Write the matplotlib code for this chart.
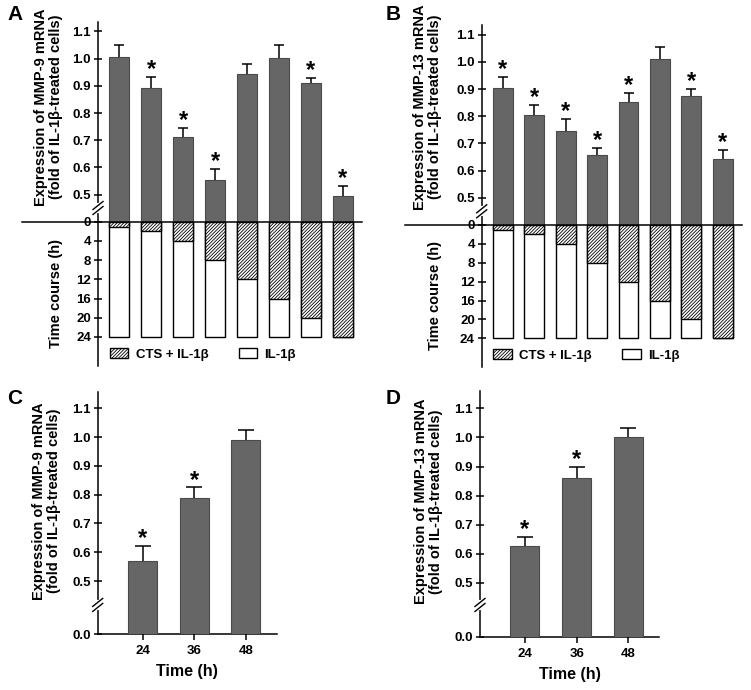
import numpy as np
import matplotlib
matplotlib.use('Agg')
import matplotlib.pyplot as plt
from matplotlib.patches import Patch

plt.rcParams['font.family'] = ['Liberation Sans', 'DejaVu Sans']
plt.rcParams['font.weight'] = 'bold'
plt.rcParams['axes.labelweight'] = 'bold'
plt.rcParams['hatch.linewidth'] = 0.6

# panel A/B: 8 time-course conditions
groups = np.arange(1, 9)
cts_hours = [1, 2, 4, 8, 12, 16, 20, 24]
total_hours = [24, 24, 24, 24, 24, 24, 24, 24]
hour_ticks = [0, 4, 8, 12, 16, 20, 24]

mmp9_a = [1.005, 0.892, 0.712, 0.554, 0.942, 1.004, 0.912, 0.493]
mmp9_a_err = [1.05, 0.932, 0.745, 0.593, 0.982, 1.051, 0.93, 0.532]
mmp9_a_sig = [False, True, True, True, False, False, True, True]

mmp13_b = [0.904, 0.806, 0.747, 0.657, 0.851, 1.011, 0.873, 0.643]
mmp13_b_err = [0.946, 0.842, 0.79, 0.684, 0.885, 1.054, 0.9, 0.676]
mmp13_b_sig = [True, True, True, True, True, False, True, True]

# panel C/D
time_labels = ['24', '36', '48']
mmp9_c = [0.571, 0.788, 0.99]
mmp9_c_err = [0.622, 0.825, 1.025]
mmp13_d = [0.626, 0.860, 1.0]
mmp13_d_err = [0.658, 0.899, 1.033]
sig_cd = [True, True, False]

val_ticks = [0.5, 0.6, 0.7, 0.8, 0.9, 1.0, 1.1]

BAR = '#666666'
HATCH = '//////////'
W, H = 751, 690
fig = plt.figure(figsize=(7.51, 6.90), dpi=100)


def rect(x0, y0, x1, y1):
    return [x0 / W, 1 - y1 / H, (x1 - x0) / W, (y1 - y0) / H]


def style(ax):
    for s in ['top', 'right']:
        ax.spines[s].set_visible(False)
    for s in ['left', 'bottom']:
        ax.spines[s].set_linewidth(1.1)
    ax.tick_params(axis='y', direction='inout', length=6, width=1.1, labelsize=9.5, pad=2)
    ax.tick_params(axis='x', direction='out', length=4, width=1.1, labelsize=9.5, pad=4)


def brk(ax, yfrac):
    bb = ax.get_position()
    w = bb.width * W
    h = bb.height * H
    ax.plot([0, 0], [yfrac - 3 / h, yfrac + 3 / h], transform=ax.transAxes,
            color='white', lw=3, clip_on=False, zorder=6)
    for d in (-2.5, 2.5):
        ax.plot([-5 / w, 5 / w], [yfrac + (d - 4) / h, yfrac + (d + 4) / h],
                transform=ax.transAxes, color='black', lw=1, clip_on=False, zorder=7)


def stars(ax, xs, tops, sig, fs):
    for x, t, s in zip(xs, tops, sig):
        if s:
            ax.annotate('*', xy=(x, t), xytext=(0, -3), textcoords='offset points',
                        ha='center', va='bottom', fontsize=fs, fontweight='bold')


def value_bars(ax, x, vals, errs, width, cap):
    vals = np.array(vals)
    errs = np.array(errs)
    ax.errorbar(x, vals, yerr=errs - vals, fmt='none', ecolor='black',
                elinewidth=1.1, capsize=cap, capthick=1.1, zorder=2)
    ax.bar(x, vals, width=width, color=BAR, edgecolor='#4a4a4a', linewidth=0.8, zorder=3)


def panel_top(box_top, box_bot, vals, errs, sig, label, ylab, lab_x, lab_y, line_x0, letter_xy):
    ax = fig.add_axes(rect(*box_top))
    style(ax)
    ax.spines['bottom'].set_visible(False)
    value_bars(ax, groups, vals, errs, 0.63, 3.5)
    stars(ax, groups, errs, sig, 17)
    ax.set_xlim(0.33, 8.6)
    ax.set_ylim(0.4, 1.136)
    ax.set_yticks(val_ticks)
    ax.set_yticklabels(['%.1f' % v for v in val_ticks])
    ax.set_xticks([])
    ax.set_ylabel(ylab, fontsize=10.5, linespacing=1.1)
    ax.yaxis.set_label_coords(lab_x, lab_y)
    brk(ax, 0.0685)

    bx = fig.add_axes(rect(*box_bot))
    style(bx)
    bx.spines['bottom'].set_visible(False)
    bx.bar(groups, total_hours, width=0.63, color='white', edgecolor='black', linewidth=1)
    bx.bar(groups, cts_hours, width=0.63, color='white', edgecolor='black',
           linewidth=1, hatch=HATCH)
    bx.set_xlim(0.33, 8.6)
    bx.set_ylim(30, 0)
    bx.set_yticks(hour_ticks)
    bx.set_xticks([])
    bx.axhline(0, xmin=line_x0, xmax=1, color='black', lw=1.1, clip_on=False, zorder=5)
    bx.set_ylabel('Time course (h)', fontsize=10.5)
    bx.yaxis.set_label_coords(lab_x, 0.5)
    handles = [Patch(facecolor='white', edgecolor='black', hatch=HATCH, label='CTS + IL-1β'),
               Patch(facecolor='white', edgecolor='black', label='IL-1β')]
    bx.legend(handles=handles, loc='center left', bbox_to_anchor=(0.045, 0.08), ncol=2,
              frameon=False, fontsize=9.5, handlelength=1.4, handleheight=0.85,
              handletextpad=0.55, columnspacing=2.3, borderpad=0, borderaxespad=0)
    fig.text(letter_xy[0] / W, 1 - letter_xy[1] / H, label, fontsize=15,
             fontweight='bold', ha='left', va='center')


def panel_cd(box, vals, errs, label, ylab, ytop, brk_y, letter_xy):
    k = 0.37
    ax = fig.add_axes(rect(*box))
    style(ax)
    fwd = lambda v: np.where(v < 0.5, 0.5 - (0.5 - v) * k, v)
    inv = lambda f: np.where(f < 0.5, 0.5 - (0.5 - f) / k, f)
    ax.set_yscale('function', functions=(fwd, inv))
    x = np.arange(len(time_labels))
    value_bars(ax, x, vals, errs, 0.56, 5.5)
    stars(ax, x, errs, sig_cd, 17)
    ax.set_xlim(-0.87, 2.6)
    ax.set_ylim(0, ytop)
    ax.set_yticks([0.0] + val_ticks)
    ax.set_yticklabels(['0.0'] + ['%.1f' % v for v in val_ticks])
    ax.yaxis.set_minor_locator(matplotlib.ticker.NullLocator())
    ax.set_xticks(x)
    ax.set_xticklabels(time_labels)
    ax.set_xlabel('Time (h)', fontsize=11.5, labelpad=5)
    ax.set_ylabel(ylab, fontsize=10.5, linespacing=1.1)
    ax.yaxis.set_label_coords(-0.205, 0.55)
    brk(ax, brk_y)
    fig.text(letter_xy[0] / W, 1 - letter_xy[1] / H, label, fontsize=15,
             fontweight='bold', ha='left', va='center')


panel_top((98, 21.7, 361.7, 221.7), (98, 221.7, 361.7, 365.7), mmp9_a, mmp9_a_err,
          mmp9_a_sig, 'A', 'Expression of MMP-9 mRNA\n(fold of IL-1β-treated cells)',
          -0.133, 0.573, -0.29, (7, 14))
panel_top((481.7, 25, 741.7, 225), (481.7, 225, 741.7, 366.7), mmp13_b, mmp13_b_err,
          mmp13_b_sig, 'B', 'Expression of MMP-13 mRNA\n(fold of IL-1β-treated cells)',
          -0.152, 0.59, -0.295, (386, 14))
panel_cd((97.7, 391.7, 276.7, 634.3), mmp9_c, mmp9_c_err, 'C',
         'Expression of MMP-9 mRNA\n(fold of IL-1β-treated cells)', 1.1576, 0.121, (7, 399))
panel_cd((480, 390.7, 659.3, 636.7), mmp13_d, mmp13_d_err, 'D',
         'Expression of MMP-13 mRNA\n(fold of IL-1β-treated cells)', 1.1606, 0.129, (386, 399))

fig.savefig('out.png', dpi=100)
